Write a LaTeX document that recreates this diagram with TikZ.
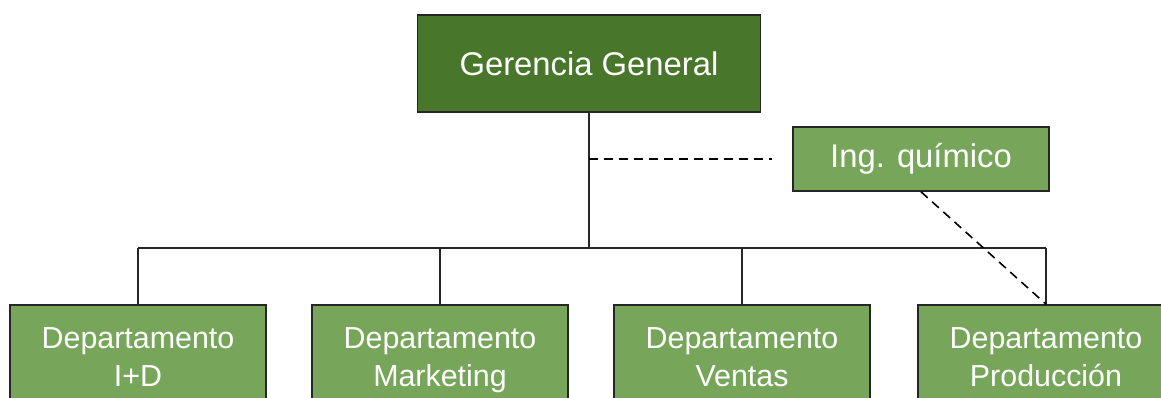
\documentclass[tikz,border=0pt]{standalone}
\usepackage{fontspec}
\setmainfont{Liberation Sans}
\usetikzlibrary{calc}
\definecolor{darkgreen}{HTML}{48762A}
\definecolor{lightgreen}{HTML}{77A55A}
\newcommand{\deplabel}[1]{Departamento\strut\\#1\strut}
\tikzset{
  topbox/.style={draw=black!85, line width=0.8pt, fill=darkgreen, text=white,
    minimum width=171.5pt, minimum height=48.5pt, inner sep=0pt,
    font=\fontsize{16.4}{20}\selectfont},
  staffbox/.style={draw=black!85, line width=0.8pt, fill=lightgreen, text=white,
    minimum width=128pt, minimum height=32pt, inner sep=0pt,
    font=\fontsize{16.4}{20}\selectfont},
  depbox/.style={draw=black!85, line width=0.8pt, fill=lightgreen, text=white,
    minimum width=128pt, minimum height=55pt, inner sep=0pt, align=center,
    font=\fontsize{15.2}{19}\selectfont},
  orgline/.style={line width=0.8pt, black!85},
  dashline/.style={line width=0.8pt, dash pattern=on 4.5pt off 3pt}
}
\begin{document}
\begin{tikzpicture}[x=0.5pt,y=-0.5pt]
\useasboundingbox (0,0) rectangle (1161,397);
\clip (0,0) rectangle (1161,397);

%Gerencia
\node[topbox] (gerencia) at (589,63.5) {Gerencia General};
%Ing
\node[staffbox] (ing) at (921,159) {Ing. químico};

%Departamentos
\node[depbox] (dep1) at (138,360) {\deplabel{I+D}};
\node[depbox] (dep2) at (440,360) {\deplabel{Marketing}};
\node[depbox] (dep3) at (742,360) {\deplabel{Ventas}};
\node[depbox] (dep4) at (1046,360) {\deplabel{Producción}};

%lineas
\coordinate (bus) at (590,248);
\draw[orgline] (gerencia.south) -- (gerencia.south |- bus);
\draw[orgline] (dep1.north |- bus) -- (dep4.north |- bus);
\foreach \d in {dep1,dep2,dep3,dep4}
  \draw[orgline] (\d.north) -- (\d.north |- bus);

%staff
\draw[dashline] (gerencia.south |- ing.west) -- ([xshift=-10]ing.west);
\draw[dashline] (ing.south) -- (dep4.north);

\end{tikzpicture}
\end{document}
